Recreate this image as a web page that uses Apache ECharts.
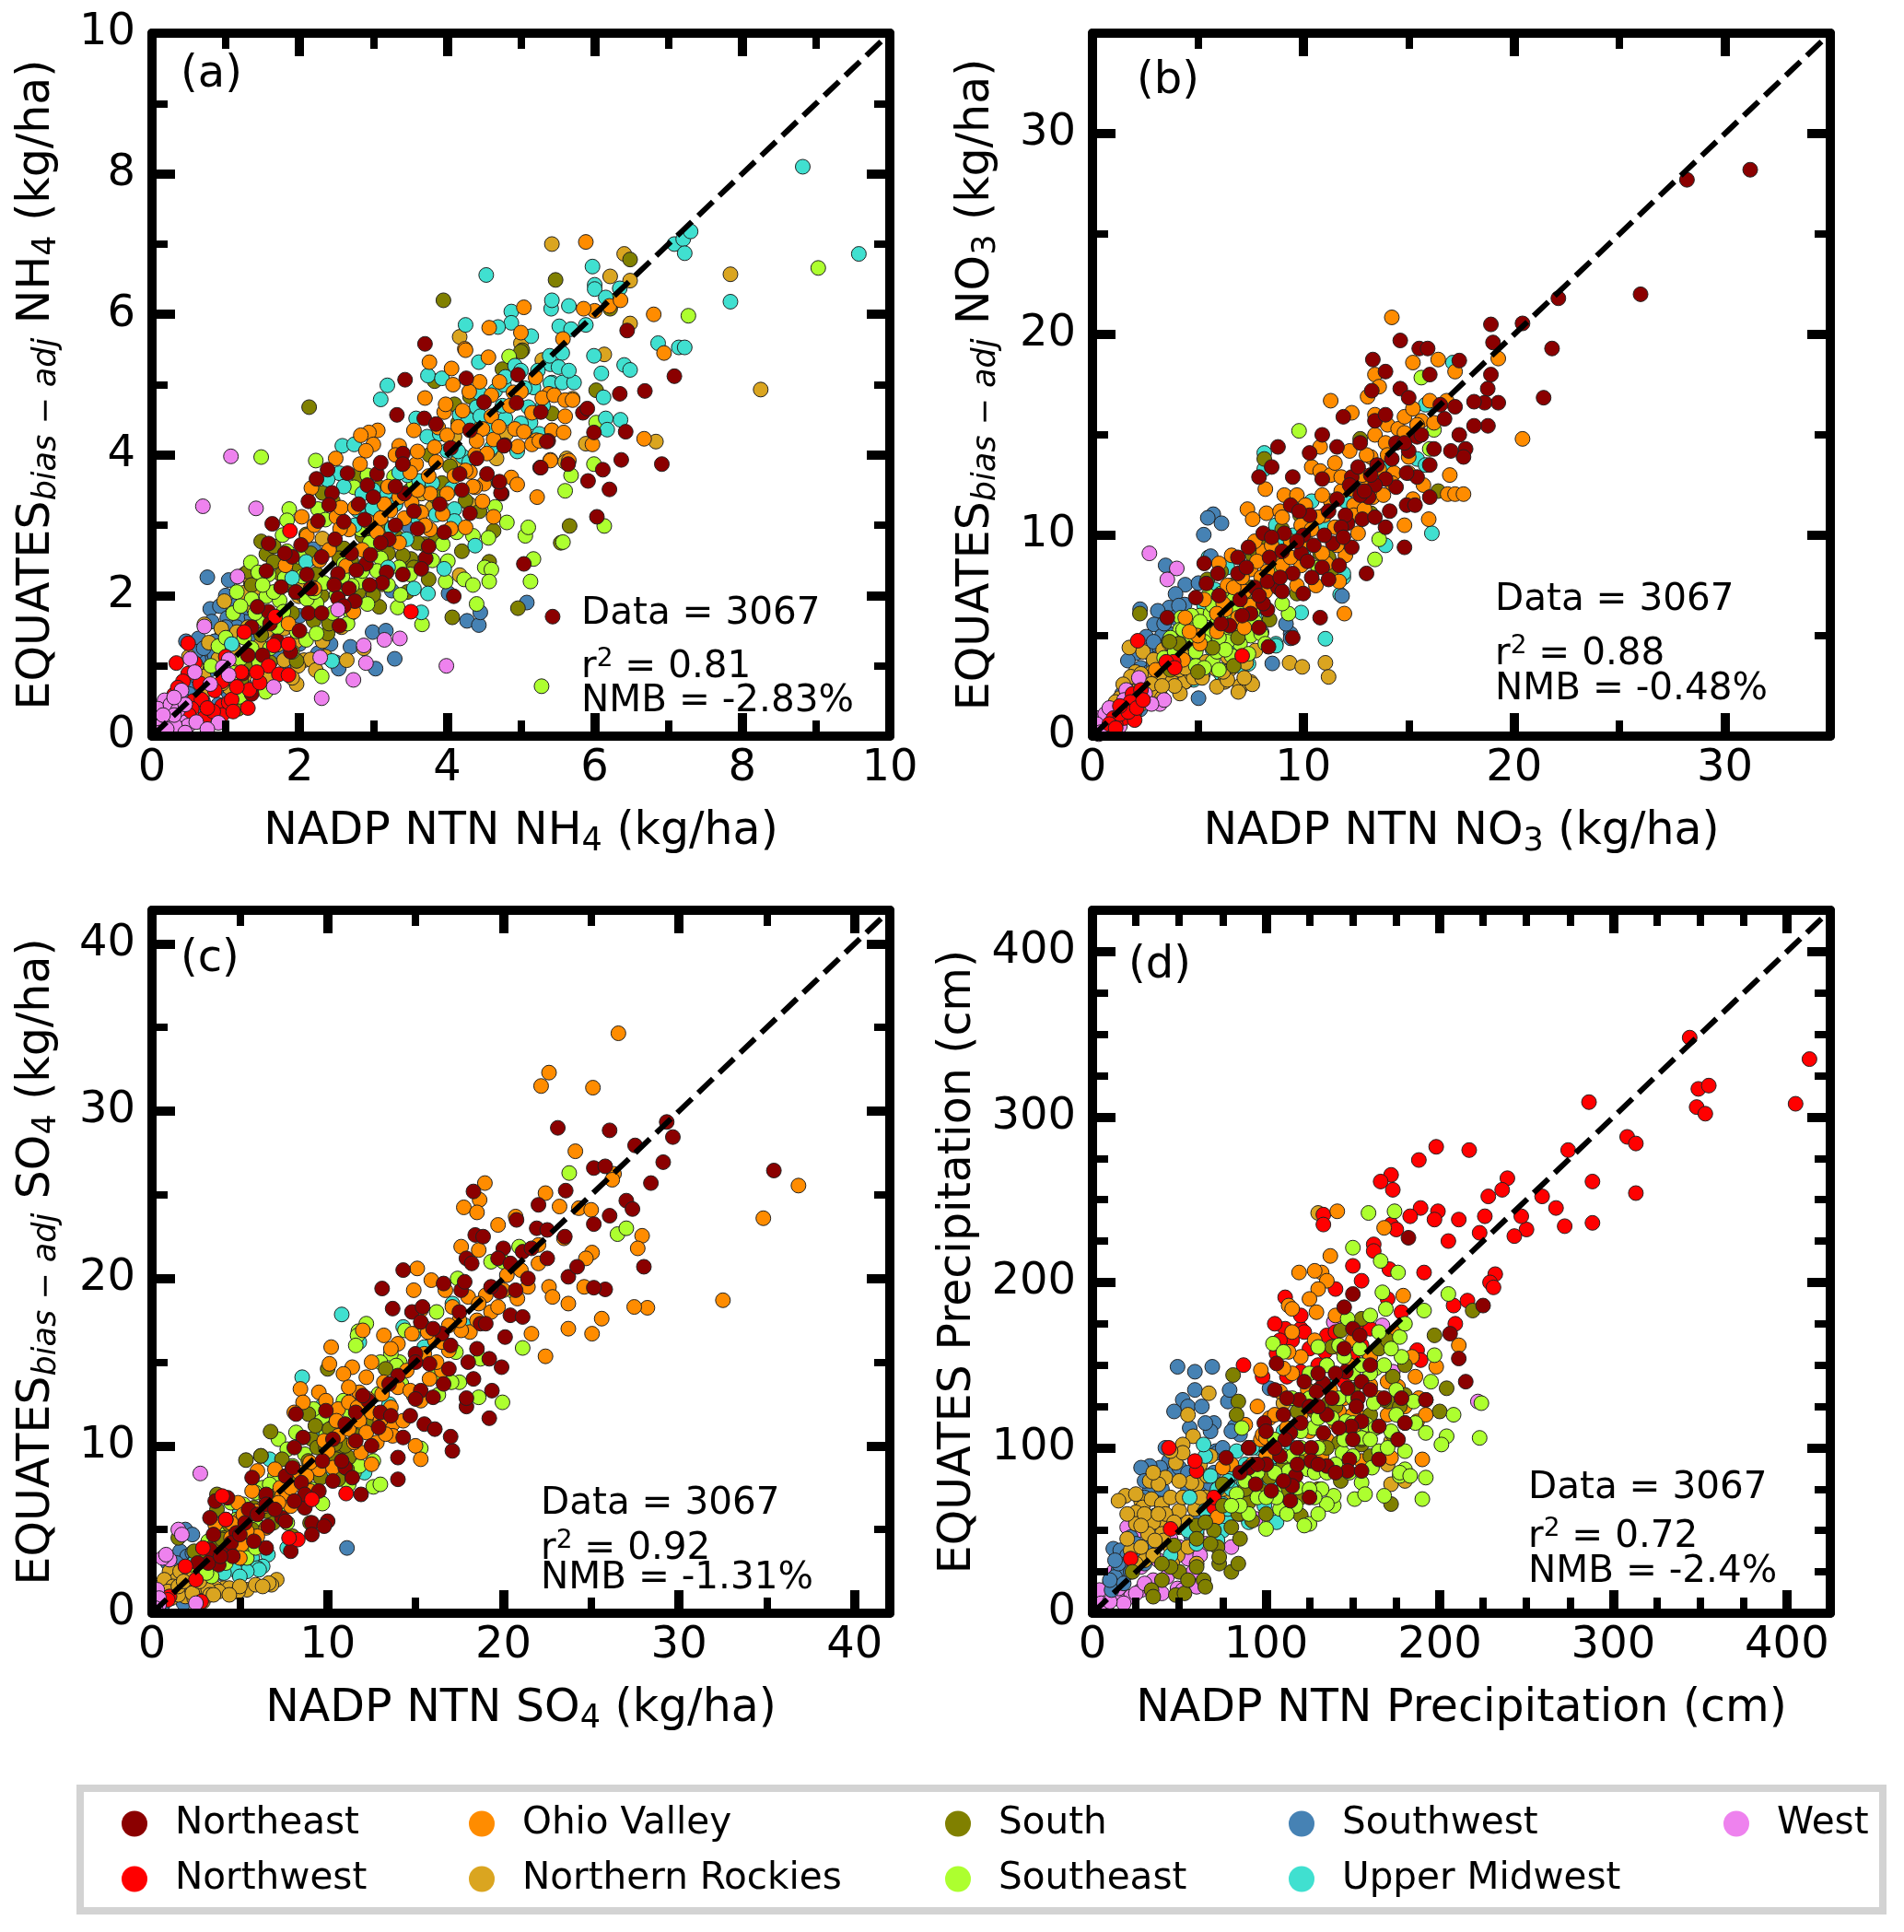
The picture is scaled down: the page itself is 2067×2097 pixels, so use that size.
<!DOCTYPE html>
<html><head><meta charset="utf-8">
<style>html,body{margin:0;padding:0;background:#fff}#c{width:2067px;height:2097px}</style>
<script src="https://cdn.jsdelivr.net/npm/echarts@6/dist/echarts.min.js"></script>
</head><body><div id="c"></div>
<script>
const regionNames=['Northeast','Northwest','Ohio Valley','Northern Rockies','South','Southeast','Southwest','Upper Midwest','West'];
const regionColors=['#8b0000','#ff0000','#ff8c00','#daa520','#808000','#adff2f','#4682b4','#40e0d0','#ee82ee'];
const panelLetters=['(a)','(b)','(c)','(d)'];
const axisMax=[10,35,42,425];
const majorTicks=[[0,2,4,6,8,10],[0,10,20,30],[0,10,20,30,40],[0,100,200,300,400]];
const minorTicks=[[1,3,5,7,9],[5,15,25],[5,15,25,35],[25,50,75,125,150,175,225,250,275,325,350,375]];
const xTitles=['NADP NTN NH{s|4} (kg/ha)','NADP NTN NO{s|3} (kg/ha)','NADP NTN SO{s|4} (kg/ha)','NADP NTN Precipitation (cm)'];
const yTitles=['EQUATES{i|bias − adj} NH{s|4} (kg/ha)','EQUATES{i|bias − adj} NO{s|3} (kg/ha)','EQUATES{i|bias − adj} SO{s|4} (kg/ha)','EQUATES Precipitation (cm)'];
const dataCounts=['Data = 3067','Data = 3067','Data = 3067','Data = 3067'];
const r2Texts=['r{p|2} = 0.81','r{p|2} = 0.88','r{p|2} = 0.92','r{p|2} = 0.72'];
const nmbTexts=['NMB = -2.83%','NMB = -0.48%','NMB = -1.31%','NMB = -2.4%'];

const a_NE=[[3.7,5.58],[3.43,5.07],[3.32,4.57],[4.26,5.09],[3.69,4.52],[3.85,4.44],[4.31,4.35],[4.78,4.14],[5.37,4.2],[5.27,4.61],[5.26,3.82],[4.7,3.61],[4.74,3.45],[4.54,3.73],[4.31,3.17],[4.17,3.73],[2.38,3.79],[2.23,3.66],[2.65,3.74],[2.12,3.34],[2.44,3.46],[2.92,3.57],[3.05,3.73],[3.4,4.02],[3.4,3.87],[1.63,3.02],[2.4,3.29],[2.88,3.08],[3.96,2.9],[2.02,2.72],[1.58,2.74],[2.48,2.8],[2.9,2.45],[2.77,2.36],[3.18,2.33],[3.71,2.53],[3.65,2.38],[2.52,2.31],[2.47,2.15],[2.52,1.96],[1.75,2.12],[1.58,1.77],[1.43,1.84],[1.88,1.2],[1.5,1.15],[1.23,.89],[4.09,1.99],[5.04,2.45],[5.43,1.7],[2.96,2.58],[3.42,3.45],[3.1,3.89],[2.12,1.75],[2.67,2.1],[2.75,1.92],[2.54,1.57],[2.25,3.06],[3.21,2.8],[3.12,2.18],[4.96,5.14],[4.94,4.74],[7.08,5.12],[6.68,4.91],[6.34,4.87],[6.42,4.33],[6.36,3.93],[6.91,3.87],[6.11,3.79],[5.91,3.63],[6.2,3.51],[6.03,3.12],[6.44,5.77],[5.84,4.6],[5.9,4.66],[5.99,4.32],[5.64,3.87],[5.27,3.82],[5.35,4.19],[4.73,3.46],[4.71,3.62],[4.77,4.13],[2.1,2.3],[2.7,2.6],[2.3,2.55],[3.3,3.0],[3.55,3.2],[3.1,2.75],[2.0,1.5],[1.7,1.35],[2.8,3.3],[3.0,3.4],[1.9,2.55],[2.15,2.1],[3.6,2.95],[4.2,3.5],[4.4,3.95],[4.05,4.1],[4.5,4.75],[3.9,3.3],[2.6,3.05],[3.3,3.55],[1.3,1.15],[1.6,1.6],[1.35,.6],[1.8,2.6],[1.95,2.05],[2.3,1.75],[2.6,1.85],[3.4,2.3],[3.75,2.7],[2.95,2.15],[1.55,2.35],[1.35,1.55]];
const a_NW=[[.49,1.32],[.33,1.04],[.49,.89],[.3,.59],[.56,.5],[.95,.43],[.95,.78],[1.32,.66],[1.46,.76],[1.58,1.0],[1.72,.88],[1.85,.87],[1.65,1.29],[1.85,1.31],[1.87,2.92],[3.51,1.77],[.71,.26],[.95,.3],[.42,.78],[1.04,.48],[.67,.52],[1.21,.91],[1.42,.91],[.83,.35],[1.08,.52],[.35,.69],[.54,.39],[1.25,1.48],[1.67,1.7],[1.0,1.13],[.58,1.04],[.65,.75],[.75,.4],[1.15,.7],[.5,.3],[1.3,.4],[.4,.45],[1.1,.35],[.85,.65]];
const a_OV=[[3.06,4.35],[2.94,4.32],[2.83,4.28],[3.0,4.15],[2.9,4.06],[2.49,3.95],[2.82,3.87],[2.16,3.53],[2.03,3.12],[2.5,3.12],[2.67,2.94],[2.56,3.25],[1.81,2.43],[2.27,2.5],[2.63,2.42],[2.73,1.77],[3.76,5.32],[4.06,5.23],[4.24,5.51],[4.08,5.0],[3.7,4.81],[4.56,5.39],[3.96,4.61],[3.55,4.35],[3.88,4.39],[4.0,4.28],[4.21,4.63],[4.48,4.37],[4.63,4.22],[4.38,4.01],[4.54,4.02],[4.96,4.12],[5.21,4.21],[5.4,3.93],[5.42,4.35],[4.92,4.37],[4.9,4.89],[5.38,4.87],[4.71,5.04],[4.44,5.04],[4.5,3.59],[4.31,3.76],[4.48,3.34],[4.87,3.68],[4.95,3.58],[5.22,3.4],[4.63,3.12],[4.25,2.97],[3.94,3.16],[3.77,3.45],[3.77,2.94],[3.65,3.18],[3.42,3.1],[3.52,3.32],[3.23,3.21],[3.58,3.87],[3.4,3.87],[3.35,4.13],[3.83,4.11],[2.92,3.06],[4.38,3.54],[4.25,3.78],[5.04,4.33],[5.29,4.81],[5.88,7.03],[6.8,6.0],[6.94,5.45],[5.04,6.1],[4.57,5.81],[5.0,5.74],[6.67,4.23],[5.97,4.15],[5.57,5.65],[6.0,6.05],[5.85,6.08],[6.2,6.12],[6.35,6.2],[5.45,4.85],[5.6,4.78],[5.7,4.78],[5.6,4.55],[5.42,4.35],[5.58,4.32],[5.15,4.15],[5.25,4.2],[5.4,3.92],[5.65,3.92],[4.25,5.49],[3.98,4.72],[4.6,4.55],[5.0,4.9],[3.2,3.55],[3.75,3.7],[3.1,3.1],[3.35,2.75],[3.7,3.0],[4.0,3.45],[4.1,3.7],[4.4,4.2],[4.7,4.4],[4.85,4.7],[4.3,4.9],[3.6,3.5],[3.15,3.3],[2.85,2.65],[2.4,2.65],[2.55,2.95],[2.1,2.85],[3.85,3.9],[4.6,4.85],[5.15,4.6],[5.2,5.1],[3.5,3.75],[1.85,1.6],[2.2,2.1],[2.2,3.0],[2.75,3.25],[3.05,2.9],[3.3,4.0],[3.6,4.05],[4.15,4.4],[4.35,3.55],[4.05,2.95],[3.35,3.4]];
const a_NR=[[1.25,2.04],[1.34,2.18],[1.44,2.12],[.98,1.92],[.71,1.59],[.77,1.33],[.5,1.13],[.94,1.53],[1.15,1.48],[1.46,1.29],[1.79,1.53],[1.79,1.08],[2.06,1.08],[2.15,1.09],[1.98,1.0],[2.22,.94],[1.96,.74],[1.9,.83],[1.05,.69],[.77,.67],[2.64,1.08],[2.87,1.25],[2.57,1.55],[2.31,1.35],[1.99,1.99],[2.31,2.81],[3.12,2.16],[3.8,3.25],[4.17,2.29],[4.67,3.95],[4.35,4.52],[4.1,4.26],[4.17,5.68],[5.0,5.59],[1.67,1.55],[1.38,1.81],[1.88,2.49],[2.35,1.13],[4.58,4.06],[5.29,5.35],[4.13,3.89],[2.17,2.53],[5.42,7.0],[6.4,6.86],[6.21,6.54],[7.84,6.57],[8.25,4.93],[6.48,5.87],[6.48,6.48],[6.13,5.43],[5.88,4.16],[6.83,4.19],[5.62,3.95],[5.7,4.8],[5.6,3.9],[.6,1.0],[.9,1.1],[1.1,1.0],[1.3,1.55],[1.5,.95],[1.6,.85],[1.7,1.3],[1.25,2.3],[1.5,1.7],[2.0,2.2],[3.65,3.45],[4.0,3.2],[4.3,3.3],[4.8,4.3],[2.6,2.1],[.7,.85],[1.1,1.25],[.95,.75],[1.25,.85],[1.55,1.5],[1.95,1.35]];
const a_S=[[2.13,4.68],[4.75,5.22],[5.02,5.49],[3.83,5.05],[4.1,4.72],[4.31,4.83],[4.15,4.46],[3.76,4.0],[2.79,3.71],[2.31,3.46],[3.08,3.54],[4.04,3.84],[3.93,3.6],[4.25,3.35],[4.44,3.2],[4.63,2.92],[4.2,2.63],[4.57,2.48],[4.96,1.82],[4.07,1.69],[3.04,2.85],[3.04,2.71],[2.6,2.67],[2.09,2.87],[1.48,2.77],[1.55,2.59],[1.65,2.48],[1.3,2.34],[2.23,2.31],[2.54,2.53],[3.51,2.52],[3.4,2.57],[3.69,2.73],[3.75,2.23],[3.33,2.82],[3.08,1.84],[3.46,2.05],[3.0,2.01],[2.19,1.64],[1.48,1.44],[1.21,.8],[1.17,.39],[1.96,1.07],[2.38,1.46],[3.17,2.97],[3.67,3.63],[5.42,4.59],[5.54,2.75],[3.95,6.2],[5.47,6.49],[6.48,6.78],[6.21,6.08],[5.66,2.99],[5.0,5.47],[6.02,4.92],[2.5,2.2],[2.0,2.4],[1.75,2.3],[1.8,2.15],[1.9,1.75],[2.3,2.0],[2.7,2.5],[3.2,2.6],[3.6,2.75],[3.85,2.8],[3.3,3.3],[3.5,3.5],[3.85,3.4],[2.15,2.6],[2.85,2.85],[2.4,1.6],[1.6,1.05],[1.3,1.0],[1.0,.9],[1.35,2.15],[1.65,2.7],[2.05,2.0],[2.8,2.05],[3.55,2.4],[3.25,3.55],[2.45,3.35]];
const a_SE=[[1.48,3.97],[2.22,3.92],[1.86,3.23],[1.83,3.07],[2.25,3.23],[2.35,3.08],[2.74,3.54],[3.28,3.69],[1.77,2.86],[1.83,2.63],[1.34,2.47],[1.44,2.33],[1.58,2.3],[1.8,2.25],[1.55,1.99],[1.73,1.93],[1.51,1.66],[1.78,1.77],[1.96,1.49],[2.23,1.89],[2.09,1.37],[2.23,1.46],[.9,1.28],[1.25,1.4],[2.3,.85],[1.54,.63],[1.19,.56],[2.33,2.18],[2.5,2.01],[2.83,2.2],[2.71,2.14],[2.92,1.88],[3.33,1.83],[3.37,2.01],[3.66,1.59],[3.1,2.53],[2.83,2.94],[3.94,2.73],[4.01,2.49],[4.13,2.9],[4.35,2.85],[4.56,2.82],[3.98,2.2],[4.23,2.23],[4.35,2.15],[4.51,2.4],[4.6,2.37],[4.57,2.2],[4.81,3.04],[5.06,2.85],[5.1,2.97],[4.65,3.26],[5.17,2.52],[5.13,2.2],[4.4,1.88],[5.28,.71],[4.84,5.4],[3.63,3.19],[2.58,2.27],[2.04,2.27],[2.92,3.71],[9.03,6.66],[7.27,5.98],[6.3,6.2],[6.02,4.46],[5.99,3.87],[5.68,3.71],[5.6,3.49],[6.13,2.99],[5.57,2.76],[1.65,2.05],[2.1,1.95],[2.7,1.75],[2.6,2.45],[2.2,2.05],[2.45,1.75],[1.7,1.55],[1.4,1.75],[1.2,1.1],[1.1,.9],[1.6,1.25],[2.85,2.35],[3.2,2.15],[3.5,2.3],[1.95,2.05],[1.1,1.75],[1.15,2.05],[1.5,2.15],[2.95,2.75],[3.35,2.4],[1.9,1.2],[3.55,3.6],[1.35,1.95],[.8,1.0],[1.2,1.85],[1.0,1.4],[1.35,1.25],[1.45,1.05],[2.0,2.55],[2.65,1.6],[3.05,2.35],[3.8,2.5]];
const a_SW=[[.75,2.26],[1.04,2.22],[1.06,1.91],[.79,1.81],[.92,1.85],[1.02,1.68],[1.17,1.7],[1.35,1.7],[1.29,1.83],[.81,1.63],[.63,1.39],[.95,1.44],[.75,1.04],[.54,.72],[.69,.5],[.71,.39],[1.31,1.21],[1.31,.98],[1.04,.61],[2.0,1.71],[2.04,2.11],[2.19,2.66],[2.99,1.48],[3.17,1.5],[2.42,1.31],[2.69,1.27],[2.49,1.05],[2.53,.96],[3.29,1.1],[3.03,.96],[4.27,1.64],[4.43,1.58],[4.45,1.76],[5.08,1.9],[4.02,2.03],[3.48,2.98],[2.25,1.18],[1.48,.98],[.9,.7],[.46,1.35],[.63,1.09],[2.0,1.31],[3.25,2.07],[1.69,1.53],[.85,1.15],[1.1,1.25],[.6,.85],[.5,.6],[1.2,1.0],[1.4,1.4],[1.0,1.0],[.8,.95],[1.15,1.55],[.6,1.2],[1.5,1.45],[.9,.45],[1.25,.75],[1.7,1.2],[1.85,1.05],[.4,.55],[1.0,1.55],[1.0,2.0],[.7,1.25],[.85,1.35],[.75,.75]];
const a_UM=[[3.19,4.99],[3.1,4.79],[3.74,5.13],[3.93,5.09],[4.43,5.32],[3.58,4.52],[2.58,4.13],[2.74,4.15],[4.44,4.88],[4.65,4.91],[4.77,5.0],[4.4,4.68],[4.17,4.57],[4.29,4.5],[4.79,4.52],[5.13,4.46],[5.1,4.68],[5.17,4.96],[5.42,5.03],[5.4,5.29],[5.23,5.2],[3.73,4.26],[4.0,4.06],[4.21,3.98],[4.06,3.52],[3.46,3.71],[3.17,3.47],[2.54,3.74],[2.38,3.65],[2.79,3.21],[2.99,3.24],[3.25,2.96],[3.45,2.8],[4.1,3.23],[4.1,3.06],[4.38,2.71],[2.09,2.48],[3.55,2.1],[3.74,2.03],[3.65,1.76],[3.96,2.38],[2.44,1.07],[4.79,5.11],[4.92,5.27],[5.2,4.24],[4.58,4.37],[3.62,3.63],[1.08,1.31],[8.82,8.1],[9.58,6.86],[7.84,6.18],[7.08,7.0],[7.2,7.07],[7.3,7.18],[7.22,6.87],[6.86,5.59],[7.14,5.53],[7.22,5.53],[6.4,5.28],[6.48,5.21],[6.09,5.16],[6.12,4.82],[6.35,4.5],[6.15,4.52],[6.17,4.36],[4.53,6.56],[5.41,6.08],[5.42,6.2],[5.65,6.12],[4.87,6.04],[4.87,5.88],[4.69,5.82],[5.14,5.69],[5.52,5.83],[5.68,5.79],[5.88,5.85],[5.97,6.68],[6.0,6.42],[6.0,6.36],[6.15,6.24],[6.34,6.37],[4.25,5.85],[5.39,5.41],[5.56,5.45],[5.51,5.25],[5.4,5.02],[5.56,5.03],[5.72,5.03],[5.65,5.2],[5.99,5.41],[5.05,4.95],[5.3,4.7],[5.0,4.45],[3.3,3.3],[3.0,3.0],[3.8,3.6],[3.6,3.1],[3.85,3.15],[4.3,3.9],[4.6,4.1],[4.75,4.7],[5.0,5.2],[3.9,4.3],[3.0,3.5],[2.75,3.0],[2.6,3.55],[3.2,2.4],[3.35,3.75],[4.15,4.05],[4.45,4.55],[5.25,4.3],[4.95,4.05],[2.85,3.45],[1.9,2.25]];
const a_W=[[1.07,3.98],[.69,3.27],[1.41,3.24],[1.16,2.27],[.71,1.56],[.52,1.1],[3.15,1.37],[3.36,1.39],[2.87,1.29],[2.9,1.04],[3.99,1.0],[2.73,.8],[2.3,.54],[2.28,1.12],[2.52,1.8],[.17,.51],[.08,.39],[.23,.29],[.15,.17],[.4,.2],[.49,.15],[.31,.15],[.9,.19],[.4,.65],[.58,.91],[1.04,1.09],[.96,.98],[1.65,.7],[.79,.74],[1.04,.87],[.06,.13],[.25,.45],[.35,.37],[.1,.05],[.2,.1],[.3,.3],[.45,.45],[.6,.2],[.15,.3],[.3,.55],[.75,.1],[.45,.05]];

const b_NE=[[31.2,28.2],[28.2,27.7],[26,22],[22.1,21.8],[21.8,19.3],[21.4,16.85],[20.4,20.55],[18.9,20.5],[19,19.6],[19.25,16.6],[18.6,16.6],[18.1,16.65],[18.9,18],[18.75,17.3],[18.76,15.45],[18.1,15.45],[17.4,18.7],[17.7,14.3],[17.6,13.9],[17.4,15],[13.3,18.75],[14.6,19.7],[15.5,19.3],[15.9,19.3],[13.9,18.15],[13.25,17.2],[14.6,17.3],[15,16.85],[16,18],[17.2,16.4],[17,14.2],[16.7,15.8],[16.2,14.3],[16,13.5],[16,11.9],[14.9,11.5],[14.4,12.4],[15.4,12.9],[15.3,11.5],[13.9,12.8],[13.4,12.5],[13.1,11.9],[12.8,10.8],[13.9,10.4],[14.8,9.4],[13,8.1],[10.8,5.9],[8.8,14.4],[7.9,12.9],[8.5,13.4],[10.3,14.1],[10.9,15],[11.6,14.4],[11.9,15.9],[12.7,14.6],[13.4,15.7],[13.9,16],[14.4,14.6],[15.4,14.9],[10.9,12.8],[11.6,11.8],[12.3,12.9],[12.6,13.4],[9.5,12.9],[9.4,11.5],[9.1,10.1],[8.1,10.1],[7.4,9.4],[6.9,8.9],[8.4,8.9],[9.9,9.1],[10.9,8.4],[11.4,9.6],[12.1,10.6],[12.3,9.4],[11.7,8.5],[10.4,7.9],[9.5,8.1],[8.8,7.4],[7.7,7.4],[6.9,8.1],[5.95,8.1],[5.3,8.6],[6,7],[7.5,6.1],[8.3,6.3],[8.1,6.6],[9,7.2],[3.55,5.9],[4.9,6.9],[7.9,5.4],[9.5,4.9],[8.35,4.45],[10,10],[10.5,9.5],[11,10],[12,11],[12.7,12],[13.5,13.5],[14.2,13.8],[15,14.2],[10.3,11],[9,9.2],[8.3,7.7],[7.3,8.4],[11.2,11.2],[13.2,13],[14.8,14.6],[16.5,16.5],[15.6,15],[9.7,9.7],[12.2,12.5],[8.9,7.9],[10,7.1],[11.2,7.8],[6.5,5.5],[7,6.8],[5.4,7.6],[12.9,12.2],[11.8,10.4],[14.1,11.2],[8.5,9.9],[10.2,8.7],[11.9,9.9],[13.4,10.9],[14.9,13.1],[9.8,11.2],[6.1,5.6],[7.9,7],[7.1,6]];
const b_NW=[[2.15,4.75],[7.1,4],[3.85,3.7],[3.5,3.7],[3.9,3.4],[1.9,2.1],[2.3,2.3],[1.5,1.3],[1,.9],[1.5,.9],[2,.8],[1.1,.6],[2.2,1.9],[1.8,1.7],[.8,.6],[1.3,1.1],[1.7,1.2],[1.3,1.5],[2.1,1.4],[2.4,1.8],[1.1,.4]];
const b_OV=[[14.2,20.85],[20.4,14.8],[15.2,18.6],[16.4,18.75],[17.2,18.15],[19.25,18.8],[13.4,18],[13.6,17.4],[13.05,16.9],[11.3,16.7],[12.3,16.1],[16.85,12.05],[17.2,12.05],[17.6,12.05],[16.95,13],[14.8,10.5],[15.95,10.8],[7.35,11.3],[8.2,12.3],[8.25,11.1],[7.6,10.8],[8.9,11.2],[9.1,12],[9.7,12],[10.8,14.4],[10.4,13.4],[10.8,13.2],[11.3,13],[11.5,13.6],[12.2,14.2],[13.2,13.9],[13.6,13.3],[14.3,13.1],[15,13.1],[15.7,12.5],[15.2,11.8],[13.3,11.9],[13.1,12.6],[13.4,15],[13.4,16],[14,15.5],[14.5,15.3],[14.8,15.9],[15.6,15.7],[16,16.7],[16.8,16.7],[15.2,16.3],[13.9,14.6],[11.3,11.7],[11.8,12.2],[10.9,12],[9.9,10.5],[10.2,9.6],[11.1,8.6],[11.5,10.4],[12,9],[12.6,10.1],[10.6,7.5],[11.7,7.7],[9.7,7.5],[9.9,8.5],[8.3,8.2],[8.1,9.2],[7.2,7.2],[7.5,8.3],[8.7,8.9],[6.6,9],[6,8.6],[6.4,7.5],[7.5,6.5],[6.3,6.3],[6.9,5.9],[7.2,5.4],[5.9,5.2],[5.3,6.8],[4.4,5.9],[4.3,3.8],[5.1,4.6],[11.95,6.1],[12.4,11.5],[9,8.5],[9.4,9.7],[10.4,10.3],[11,11],[11.6,9.5],[12.4,11],[12.8,13],[14,14],[14.8,15.1],[15.4,15.5],[13.8,12],[8.5,9.5],[7.8,8.7],[6.7,7.4],[10.9,9.1],[9,10.9],[10.1,11.5],[12.3,12.3],[13,14],[8.2,7.2],[6.2,6.6],[5,5],[4.6,5.2],[3,3.3],[5.9,6.1],[7.1,7.9],[8,7.9],[9.4,8.9],[10.7,10.9],[11.8,12.9],[12.9,11.3],[14.2,12.6],[15,13.9],[16.2,15.6],[7.7,9.7]];
const b_NR=[[9.35,3.65],[9.95,3.45],[11.05,3.65],[11.2,2.95],[7.5,2.7],[7,2.4],[5.86,3.34],[6.53,3.34],[6.27,2.7],[5.9,2.46],[7,2.5],[7.58,2.58],[7.2,2.9],[6.92,2.2],[4.37,2.7],[4.15,2.12],[3.72,2.76],[2.04,3.19],[1.75,4.41],[3.35,4.29],[1.82,2.96],[1.46,2.58],[2.19,2.35],[4.96,5.1],[4.23,4.11],[2.84,3.19],[3.64,4.64],[2.55,1.82],[7.29,3.65],[7.73,4.26],[6.41,3.95],[5.4,3.7],[4.7,3.1],[4.1,3.3],[2.9,2.3],[2.4,4.2],[1.6,1.7],[2.6,2.9],[3.3,1.9],[3.9,2.5],[4.8,2.9],[2.3,2.7],[2.9,3.8],[3.2,3.1],[1.9,2.1],[1.3,1.9],[1,1.3],[2.3,1.6],[3.5,3.9],[2.8,2.6],[6.4,2.8],[6.2,3.2],[1.5,1.1],[2,1.5],[2.3,3.1],[3.3,2.5],[4.4,3.4],[5.2,2.9],[1.1,1.7],[1.7,1.3]];
const b_S=[[8.15,13.8],[2.25,6.1],[5.45,7.8],[6.1,8.2],[7.6,9],[7.8,9.2],[9,10.3],[9.85,11],[11.2,8.9],[11.3,8.1],[13.2,11.1],[16.4,12.2],[12.7,14.8],[7.5,7.4],[9.7,7.1],[8.4,5.8],[6.9,4.9],[4.1,4.6],[3.65,4.7],[6.5,5.5],[6.6,7.5],[8.1,9.9],[9,8.9],[10.8,9.1],[7.2,6.8],[5.7,4.4],[6.7,3.5],[5,3.2],[8.3,8],[3.7,3.3],[2,1.2]];
const b_SE=[[9.8,15.2],[15.6,17.85],[16.2,15.25],[13.6,9.8],[4.2,5.9],[4.15,5.3],[4.95,5.5],[5.1,6],[4.4,4.7],[4.9,4.2],[5.7,3.7],[6.05,5.4],[6.5,5.2],[7,5.5],[7.5,5],[7,4.6],[7.4,4.1],[6.4,4.7],[5.9,4.2],[5.5,5.2],[5.6,6.1],[6.1,7.1],[5.5,7],[6.7,6.8],[8,5.1],[8.2,4.6],[9.3,6.1],[10.7,8.4],[13.4,8.8],[16,14.3],[3.7,4.9],[5,5.2],[5.3,4.7],[6,4.9],[6.6,4],[7.7,5.7],[6.2,5.9],[4.7,5],[4.9,3.5],[5.3,3.4],[3.4,3.9],[7.1,7],[6.6,6.2],[8.7,8.2],[9,6.6],[5.7,6.5],[6,3.3],[3.9,4.2],[4.7,6],[5.9,5.6],[6.9,6.2],[7.6,6.2],[6.3,4.3],[4.3,5.3],[5.1,5.7]];
const b_SW=[[5.73,11.05],[5.47,10.87],[6.12,10.6],[5.28,10.03],[3.47,8.5],[2.26,6.32],[4.4,7.54],[5.03,7.62],[3.94,7.08],[3.64,6.4],[4.37,6.55],[3.1,6.24],[2.92,5.56],[3.57,5.1],[2.55,4.95],[2.08,4.14],[2.81,4.03],[1.68,3.76],[5.25,3.11],[5.03,1.89],[8.53,3.62],[9.4,5.1],[9.4,4.87],[9.18,5.59],[11.84,6.98],[8.02,5.18],[5.61,8.96],[2.92,2.92],[2.26,1.33],[1.63,1.85],[3.13,2.43],[4.66,3.95],[3.79,3.65],[3.3,5],[3.9,5.9],[3.2,4.3],[4,4.9],[2.3,3.4],[3.2,3.5],[4.5,3.1],[3.9,5.1],[2.7,3.2],[2.9,4.7],[3.2,2.9],[2.2,2.2],[1.6,2.5],[1.3,1.6],[2.5,2.5],[3.6,4.7],[4.8,4.4],[5.2,5.4],[5.8,6.9],[4.1,6.5],[3.4,5.6],[1.9,2.8],[4.2,3.5],[4.6,5.4],[2.4,3],[2.9,3.6],[3.5,3.3],[3.9,4.4],[4.4,4.3],[3.1,3.9],[2.1,2.5],[1.4,2.1]];
const b_UM=[[16.1,10.1],[11.05,4.85],[9.9,6.15],[8.7,4.6],[11.75,7.05],[11.9,7.9],[17.1,18.6],[15.8,16.5],[8.15,14.1],[8.15,13.3],[8.7,10.5],[9.1,9.6],[10.4,11.7],[10.5,10.6],[12,11.7],[13.9,9.5],[15.4,13.8],[15.8,13.5],[6.4,8.4],[7,8],[7,6.7],[5.5,8.9],[5.3,6.5],[6.5,3.7],[7,3.5],[8.7,4.5],[7.4,3.6],[3.9,3],[5,5.8],[6.5,4.5],[4.8,2.8],[8.1,6.4],[11.9,8.1],[9.5,10],[11,10.5],[12.2,11],[13.3,12],[14,13.5],[10,9],[8.5,8.2],[8.2,7.7],[7.7,5.9],[5,4.5],[4.5,3.6],[5.7,4.3],[4.2,4.5],[6.1,3.1],[3.5,2.8],[4.4,2.7],[5.8,7.3],[5.1,5.4],[6.6,6.5],[4.6,4.6]];
const b_W=[[2.7,9.1],[4,8.35],[3.55,7.8],[.3,.4],[.5,.7],[.7,.9],[.9,1.2],[.4,.9],[.6,.3],[1,.3],[1.3,.5],[1.6,2.3],[2.5,2.1],[3.2,1.6],[3.4,1.8],[1.2,1.1],[.3,.1],[.2,.9],[2.2,2.9],[.4,.5],[.2,.3],[.7,.4],[.9,.6],[.5,.2],[1.1,.8],[.6,1.1],[.8,1.4],[.2,.6],[1.5,1.8],[2.8,1.6],[.4,.2]];

const c_NE=[[35.4,26.45],[29.3,29.35],[29.65,28.45],[29.1,26.95],[28.4,25.7],[27.5,27.95],[26.05,28.85],[23.1,29],[25.15,26.6],[25.8,26.7],[27,24.65],[27.35,24.15],[26.05,23.75],[28,20.7],[25.8,19.35],[25.15,19.45],[25.15,23.25],[23.7,20.1],[24.2,20.7],[23.55,25.25],[22,24.4],[18.3,25.2],[20.75,23.5],[18.4,22.6],[18.85,22.5],[14.3,20.5],[19.2,11.65],[19.35,13.3],[17.1,9.7],[17,10.55],[14,8],[17.9,12.35],[17.9,12.85],[13.1,19.4],[23.5,22.5],[21.9,23],[22.5,22.9],[22.5,21.2],[21.1,21.6],[21.6,21.8],[20,21.8],[19.7,21.2],[17.9,21.2],[18.2,20.9],[13.7,18.2],[14.8,18],[15.4,18.3],[15.3,17.4],[16.6,19.7],[17.6,19.3],[17.8,19.8],[19.8,19.2],[20.7,19.3],[20.4,17.8],[21.1,17.7],[19.2,15.2],[19.9,14.7],[18,15],[16.9,14.6],[15.8,14.9],[15.3,13.3],[15,12.8],[16,12.9],[14.3,10.5],[14,9.3],[15.5,11.3],[16.1,11],[12.3,12.7],[11.6,12],[9.9,12.1],[11.6,10.3],[8.2,11.9],[8.6,10.5],[8.1,9.9],[9.7,9.1],[11,8.7],[11.4,8.1],[11.9,7.1],[8.5,7.8],[5.7,8.1],[6.5,7.1],[6.5,6.5],[8.7,6.3],[9.1,5.4],[10,5.5],[9.1,4.7],[4.8,4.8],[4.2,5.6],[3.5,4.7],[3.3,5.7],[3.6,6.7],[4.3,6.9],[5.3,5.4],[5.5,6.2],[7.9,3.7],[9.8,5.2],[4.3,3.7],[3.3,3.8],[3.8,2.9],[6.5,3.9],[6.6,5.2],[7.4,5.7],[6,5.9],[7,6.2],[7.6,8.2],[8.7,7.1],[10.3,10.4],[11,11.3],[12,13],[13,12],[14,14.2],[15,15.5],[16.5,16.7],[17.5,18],[18.7,17.3],[19.3,19.5],[20.4,20.9],[21.4,20],[16,17],[18.5,15.8],[13.5,13.7],[15,15],[3.2,3],[4.5,4.2],[5,4.7],[2.6,3],[8,8.7],[12.9,11.1],[10.8,9.1],[4.6,3.4],[5.8,4.3],[7.6,5.5],[8.1,6.7],[9.5,7.3],[10.3,7.9],[12.5,10],[13.6,11.8],[14.7,11.8],[16.6,13.7],[18.3,14],[20.1,16.5],[17,16],[19,17.3],[3.9,3.4]];
const c_NW=[[11.05,7.15],[9.1,6.8],[8.3,4.4],[4,7],[4.2,5.6],[2.9,3.9],[1,1],[2.8,.7],[2.5,2],[1.9,2.8],[.9,.8],[7.8,4.5]];
const c_OV=[[26.55,34.65],[22.6,32.3],[22.15,31.5],[25.1,31.4],[24.1,27.6],[36.8,25.55],[34.8,23.6],[32.5,18.7],[28.2,18.25],[27.45,18.3],[27.9,22.55],[27.65,21.8],[26.3,26.25],[26.2,25.9],[18.95,25.7],[18.65,24.7],[17.75,24.25],[18.5,23.95],[22.4,15.35],[23.7,17],[25.05,16.7],[25.6,17.6],[23.7,18.5],[24.6,19.5],[25.05,21.55],[24.7,21.2],[23.45,22.4],[22.4,25.1],[23.2,24.3],[24.3,24.2],[25,24.1],[20.7,23.7],[19.7,23.2],[17.6,21.9],[18.6,21.7],[22,20.9],[22.6,19.5],[22.8,18.9],[21.6,16.7],[20,19.3],[15.1,20.6],[15.9,19.9],[16.7,19.3],[14.9,19.3],[15.3,18.1],[17.1,18.3],[18,18.9],[19.3,18],[18.1,16.8],[17.6,16.9],[16.9,15.7],[16.1,16.3],[14.8,16.7],[14,16.1],[13.2,16.6],[13.6,15.8],[12,16.9],[11.4,14.7],[10.2,15.9],[10.1,14.9],[10.9,14.3],[9.5,13.2],[8.45,13.4],[8.6,12.6],[8.1,12],[9.9,12.7],[10.6,12.2],[11.2,12.6],[11.8,13.2],[12.2,14.1],[13.1,13.1],[13.6,12.3],[13.7,11.3],[15,10],[15.3,9.2],[13.7,10.6],[11.9,9.6],[11.5,10.2],[12.8,10.2],[12.5,8.9],[9.5,8.6],[7,8.6],[7.3,7.5],[6,8.5],[5.7,7.3],[6.4,6.4],[7.4,7],[7.9,6.4],[5,5.6],[4.5,5.4],[3.6,5.3],[5.1,4.1],[6.5,5.1],[5,3.3],[14.9,13],[15.8,14],[16.5,14.5],[5.9,6.1],[6.5,6.9],[7.9,7.5],[8.4,8.4],[9,9],[10,9.7],[10.6,10.6],[11.2,11],[11.8,11.5],[12.2,10.8],[12.5,12],[13.2,13.8],[14,13.5],[14.5,14.5],[15.5,15.5],[16.5,16.2],[17.5,17.5],[19,19],[20.2,20.2],[21,20.5],[22,22],[12.5,15],[11.2,13.5],[10.5,11.5],[13,11.5],[14.3,11.5],[15.3,12.7],[16.2,15],[18.5,17.5],[9,7.3],[6,4.6],[4.9,6.6],[3.4,3.2],[4.5,4.5],[5.4,4.9],[7.2,6.6],[8.8,8.2],[9.8,10.3],[10.3,8.7],[11.7,12.3],[12.3,12.8],[13.3,10.7],[14.7,13.3],[15.7,16.8],[16.9,17.2],[18.6,18.5],[19.7,18.3],[20.8,18.8],[21.4,19.5],[5.2,5.9]];
const c_NR=[[7.1,2],[6.8,1.7],[6.65,1.8],[5.4,1.4],[4.7,1.3],[4.1,1.5],[3.6,1.5],[4.4,1.5],[4.9,1.3],[5.9,1.7],[6.3,1.6],[3.8,1.3],[2.5,1.3],[2.8,1.1],[1,2.5],[1.4,2],[.7,2],[2.9,.7],[1.9,1],[2.2,2.2],[1.1,.9],[1.2,1.6],[1.6,2.5],[2.1,1.6],[2.9,1.6],[3.2,1.4],[2.4,.9],[.9,1.3],[3.3,1.1],[.6,.9],[1.5,1.1],[5,1.6],[1.5,1.6],[2.3,1.2],[3.5,1.1],[1.8,1.9],[2.7,1.9],[4.4,1.1]];
const c_S=[[10,14.6],[5.35,9.15],[6.75,10.85],[8.9,11.9],[9.1,10.4],[9.3,11.2],[10.1,11],[11.6,10.6],[11.2,9.3],[10.6,9.9],[10.1,9.2],[9.3,8.8],[9.4,9.9],[13.3,14.6],[11.1,8.6],[10.6,8],[10.5,9.2],[8.7,8],[7,7],[3.7,6.2],[1.5,4.5],[3.5,4],[4.1,4.5],[4.4,5.3],[3.7,7.1],[7.4,9.2],[9,5.4],[5.8,6.3],[6.9,5.4],[8,4.6],[9.9,9.9],[8.9,9.1],[9.6,8.1],[11,10],[8.3,8.1],[7.7,6.9],[6.5,6.1],[5.7,5],[4.7,5.3],[4,4.4],[3,3.5],[2.4,3.7],[12.6,11.5],[10.4,10.1],[4,3.5],[6.2,9.4]];
const c_SE=[[23.75,26.3],[26.5,22.65],[27,23],[21.1,15.85],[19.95,12.6],[18.6,12.9],[17.5,13.8],[17.05,13.8],[16.3,13.05],[12.6,7.55],[15.3,9.85],[9.7,6.55],[11.75,16.85],[11.7,16.6],[11.6,16],[12.2,17.3],[14.1,15],[13.6,15.5],[16.2,18],[15.4,17.2],[20,21],[20.9,21.9],[19.3,21],[20.6,19.2],[17.4,20],[11.8,11.2],[9.7,11.7],[9.2,12.2],[8.2,10.8],[7.2,10.4],[7.7,9.8],[6.2,9.4],[11.2,7.7],[12.6,9.1],[7.4,6.3],[7.7,5.4],[5.6,5.7],[4.3,5],[3.2,4.3],[2.7,3.7],[4.9,3.4],[5.4,3.9],[2.5,2.8],[3.4,2.2],[13,7.7],[11.5,8.4],[5.2,6.5],[6.3,7.5],[8,8.8],[8.7,9.5],[9.9,10.6],[10.9,10.1],[10.9,12.7],[12.1,11.9],[12.9,13.1],[14.2,13.7],[16.1,14.2],[14.4,16.9],[7,8.2],[4.5,6.6],[3.5,3.5],[4.2,3],[6,5.2],[5.9,7.2],[18.7,15.2],[17.3,15.6],[11.8,8.8],[3.2,2.9],[4.8,5.6],[6.7,7.7],[7.9,7.9],[9.1,7.4],[11.3,11.9],[13,15],[13.9,14.8],[2.9,3.2],[5.4,3.3],[5.9,3.9],[3.1,2.4]];
const c_SW=[[11.1,3.9],[1.9,5],[2.3,4.7],[1.6,3.7],[2,3.4],[1.4,3],[.9,2],[1.7,1.3],[1.75,.8],[4.8,2.7],[5.4,3],[3.6,2.7],[4.7,3.1],[3,3.4],[5.1,5.1],[2.6,2.4],[1,1.4],[1.5,2.2],[2.1,2.6],[.9,3],[1.2,2.6],[2.3,3.6],[.6,.5],[3.2,2],[1.8,.6],[.5,1.4],[2.5,3.3],[3,2.7],[3.9,2.4],[1.3,1.8]];
const c_UM=[[10.8,17.85],[8.55,14.1],[12.1,8.4],[11.8,16.2],[14.3,17.1],[14.9,16.7],[17.8,17.2],[9.7,12.4],[10.3,8.2],[9.3,10.4],[6.7,9.2],[5.6,5.3],[5.8,5.8],[6.6,3.5],[7.7,3.9],[5.2,4.3],[5.7,3.3],[3.6,5.4],[6.3,2.8],[6,2.7],[5.4,4.8],[6.1,2.6],[5,6.1],[6.6,7.4],[3.8,2.9],[3.9,4.1],[3.2,2.5],[4.3,2.8],[5.4,2.5],[4.7,2.6],[2.4,3],[6.9,6.4],[7.3,7.7],[11.6,10.9],[13.5,12.5],[15.5,15.9],[17.1,18.5],[3.1,3.2],[4.1,2.4],[5,2.2],[2,2.2]];
const c_W=[[2.75,8.35],[1.5,5],[1.7,4.7],[1,3.2],[.3,1.4],[.4,.5],[2.5,.6],[.6,3.3],[.4,.9],[.2,.3],[.8,3.5]];

const d_NE=[[182,227],[225,186],[206,169],[211,154],[215,140],[192,129],[150,193],[145,185],[150,172],[154,168],[146,146],[122,140],[133,139],[147,136],[129,134],[119,129],[106,151],[110,120],[155,116],[153,130],[152,125],[133,109],[149,113],[165,113],[176,105],[148,93],[126,100],[114,109],[126,92],[135,89],[103,74],[90,88],[77,94],[108,95],[111,105],[117,83],[147,86],[165,93],[155,86],[99,115],[114,68],[125,125],[135,120],[142,112],[130,145],[140,145],[112,130],[100,110],[118,100],[130,90],[118,90],[100,90],[90,100],[115,77],[138,130],[145,160],[160,150],[168,130],[105,135],[155,140],[94,78],[180,115],[178,130],[120,115],[130,125],[105,100],[95,90],[85,85],[110,80],[125,70],[150,105],[140,85],[160,135]];
const d_NW=[[344,348],[349,317],[355,319],[348,306],[353,302],[413,335],[405,308],[286,309],[308,288],[313,284],[313,254],[288,261],[288,236],[274,280],[272,234],[267,245],[259,252],[250,232],[243,228],[247,240],[239,263],[236,256],[228,252],[226,240],[223,230],[232,205],[229,200],[231,197],[217,280],[198,282],[188,274],[172,265],[166,261],[173,256],[189,245],[199,243],[197,238],[183,240],[211,238],[205,225],[172,235],[175,232],[133,241],[133,235],[162,223],[162,219],[150,210],[171,208],[191,206],[111,191],[170,190],[208,186],[216,189],[209,175],[178,182],[87,150],[187,159],[189,153],[140,196],[155,201],[111,172],[120,172],[106,157],[122,170],[134,158],[120,146],[98,143],[125,131],[155,162],[135,168],[153,175],[60,86],[70,64],[45,51],[59,92],[22,33],[125,88],[91,71],[44,100],[70,70],[115,165],[120,180],[105,175],[130,150],[140,170],[125,160],[150,155],[160,172],[112,143],[145,140],[108,165]];
const d_OV=[[141,243],[168,233],[137,216],[132,206],[128,207],[119,206],[135,201],[130,196],[129,182],[179,192],[211,162],[198,149],[187,116],[113,186],[115,184],[97,147],[120,155],[113,158],[108,134],[124,135],[122,128],[142,122],[160,138],[165,130],[176,137],[186,143],[184,155],[119,113],[102,118],[90,100],[97,105],[98,108],[88,114],[100,106],[125,96],[132,95],[113,82],[110,71],[72,58],[85,60],[143,160],[148,150],[156,118],[190,93],[172,94],[130,135],[140,115],[150,120],[145,130],[105,120],[125,110],[120,120],[160,155],[170,120],[135,105],[150,110],[180,125],[188,130],[120,90],[95,125],[115,145],[128,165],[110,148],[135,150],[150,165],[175,170],[140,180],[180,115],[192,120],[155,92],[100,95],[112,112],[137,135],[160,110],[80,90],[92,90],[75,88],[170,140],[115,170],[125,190]];
const d_NR=[[130,242],[67,133],[58,107],[55,120],[52,102],[28,68],[19,71],[29,64],[25,61],[34,69],[40,66],[40,53],[50,52],[40,48],[41,44],[49,35],[30,32],[55,40],[22,38],[25,54],[60,78],[65,70],[67,65],[35,55],[42,82],[48,91],[52,97],[57,79],[59,63],[74,62],[32,48],[15,68],[36,44],[70,54],[172,104],[170,90],[172,78],[180,80],[28,40],[46,30],[60,30],[110,127],[25,72],[33,80],[45,70],[50,62],[62,70],[30,60],[38,78],[20,45],[35,35],[55,55],[45,40],[42,60],[70,65],[52,70],[28,53],[60,48],[66,83],[80,72],[35,85],[45,98],[50,80],[25,30],[20,60],[38,60],[62,90],[68,95],[75,75],[47,55]];
const d_S=[[81,144],[197,168],[204,136],[200,122],[192,129],[219,183],[120,59],[80,25],[64,20],[65,16],[143,171],[138,161],[173,143],[170,128],[177,125],[168,129],[180,132],[136,127],[119,92],[155,102],[143,80],[84,128],[83,120],[142,103],[118,122],[97,74],[90,67],[84,60],[92,56],[72,40],[73,30],[47,41],[60,53],[40,20],[34,14],[35,10],[48,11],[53,12],[60,28],[23,25],[73,34],[70,50],[155,105],[172,66],[84,30],[150,135],[160,120],[173,108],[148,108],[128,122],[130,75],[140,125],[110,90],[120,70],[102,82],[88,75],[75,78],[80,52],[65,55],[60,45],[155,178],[165,160],[180,150],[170,165],[100,60],[110,72],[75,65],[85,45],[50,25],[55,20],[45,28],[68,42],[40,30],[160,95],[135,100]];
const d_SE=[[159,242],[174,243],[150,221],[166,213],[176,206],[167,194],[205,193],[191,183],[169,184],[177,167],[197,156],[195,140],[223,106],[224,127],[208,120],[192,109],[204,107],[201,102],[192,82],[177,83],[180,87],[168,71],[151,69],[139,65],[139,71],[125,54],[100,51],[180,98],[186,115],[163,148],[154,160],[142,162],[130,161],[104,163],[110,158],[162,127],[158,114],[146,116],[127,112],[165,98],[177,85],[183,83],[161,88],[155,79],[144,97],[132,75],[124,87],[118,76],[113,86],[105,73],[105,85],[88,80],[83,72],[135,66],[128,70],[117,65],[108,63],[155,106],[130,118],[120,100],[142,130],[178,155],[86,112],[190,69],[130,100],[145,105],[150,115],[163,112],[170,100],[150,130],[160,145],[168,150],[175,135],[185,128],[120,110],[110,95],[115,130],[125,145],[135,150],[150,145],[172,110],[140,90],[128,85],[95,70],[100,90],[138,118],[106,70],[172,160],[148,85],[157,72],[90,60],[112,60],[122,53],[160,180],[147,178],[180,175],[100,70],[85,65],[115,95],[125,75],[135,85],[150,95],[160,105],[175,120],[165,170],[155,150],[145,155],[125,130],[105,105],[95,85],[80,65],[130,60]];
const d_SW=[[49,149],[59,146],[69,149],[59,135],[52,129],[55,125],[63,125],[47,122],[56,112],[70,115],[78,128],[79,135],[82,113],[71,98],[85,108],[102,136],[44,92],[47,85],[61,87],[72,97],[42,100],[39,88],[33,89],[33,75],[28,88],[30,70],[42,71],[62,85],[27,60],[43,58],[62,54],[12,39],[16,38],[15,26],[13,22],[11,14],[36,59],[22,46],[57,46],[30,30],[60,60],[25,42],[20,35],[25,35],[35,50],[40,75],[52,70],[55,75],[70,85],[75,100],[68,110],[15,30],[22,25],[13,32],[33,43],[50,88],[65,78],[30,40],[38,50],[40,65],[55,85],[30,80],[18,18],[10,20],[62,72],[80,110],[65,115]];
const d_UM=[[65,95],[64,102],[83,98],[92,85],[87,80],[84,63],[70,60],[75,66],[80,84],[95,100],[102,104],[108,87],[106,55],[94,80],[99,65],[77,56],[75,50],[72,44],[90,100],[136,137],[68,83],[107,79],[78,63],[87,60],[80,75],[72,75],[85,72],[60,50],[65,62],[100,88],[88,90],[110,110],[118,128],[68,55],[95,72],[56,70],[78,90],[90,55],[78,80],[92,100],[105,95],[55,50],[45,35],[100,75],[60,42],[115,100]];
const d_W=[[222,128],[139,176],[159,157],[167,174],[173,146],[20,52],[30,52],[35,20],[22,10],[14,10],[10,18],[4,14],[60,16],[49,15],[28,14],[55,33],[38,32],[52,14],[75,55],[94,57],[20,32],[8,4],[18,6],[5,6],[12,25],[25,12],[30,18],[43,22],[18,22],[10,7],[65,42],[80,40],[58,25],[45,45],[26,50],[15,35],[28,28],[35,40],[50,40],[62,35],[72,55],[15,15],[40,12]];

const panelData=[
 [a_NE,a_NW,a_OV,a_NR,a_S,a_SE,a_SW,a_UM,a_W],
 [b_NE,b_NW,b_OV,b_NR,b_S,b_SE,b_SW,b_UM,b_W],
 [c_NE,c_NW,c_OV,c_NR,c_S,c_SE,c_SW,c_UM,c_W],
 [d_NE,d_NW,d_OV,d_NR,d_S,d_SE,d_SW,d_UM,d_W]];
const drawOrder=[[6,3,4,5,7,2,0,1,8],[7,6,3,5,4,2,0,8,1],[6,7,3,5,4,2,0,1,8],[8,6,3,7,1,2,4,5,0]];

const LEFT=[165,1186,165,1186],TOP=[36,36,988,988],W=801,H=763;
const DATA_XY=[[631,666,724,761],[1623,651,710,748],[587,1632,1681,1713],[1659,1615,1668,1706]];
const LETTER_XY=[[196,82],[1234,89],[196,1042],[1225,1049]];
const Y_GAP=[97,98,97,118];
const FONT='DejaVu Sans';
const richName={i:{fontFamily:FONT,fontSize:35,fontStyle:'italic',verticalAlign:'bottom',lineHeight:46},s:{fontFamily:FONT,fontSize:35,verticalAlign:'bottom',lineHeight:50}};
const grids=[],xAxes=[],yAxes=[],series=[],graphics=[];

function makeAxis(p,isMajor,pos,withLabels,title,gap){
  const horizontal=pos==='bottom'||pos==='top';
  const o={type:'value',min:0,max:axisMax[p],gridIndex:isMajor?2*p:2*p+1,position:pos,z:6,
    splitLine:{show:false},minorTick:{show:false},
    axisLine:{show:isMajor,onZero:false,lineStyle:{color:'#000',width:10}},
    axisTick:{show:true,inside:true,customValues:isMajor?majorTicks[p]:minorTicks[p],length:isMajor?25:17,lineStyle:{color:'#000',width:isMajor?10:8}},
    axisLabel:{show:withLabels,customValues:majorTicks[p],color:'#000',fontFamily:FONT,fontSize:48,margin:horizontal?12:18}};
  if(title){
    o.name=title;o.nameLocation='middle';o.nameGap=gap;
    o.nameTextStyle={color:'#000',fontFamily:FONT,fontSize:49,lineHeight:56,rich:Object.assign({},richName)};
  }
  return o;
}

for(let p=0;p<4;p++){
  const rect={left:LEFT[p],top:TOP[p],width:W,height:H,show:false,containLabel:false,outerBoundsMode:'none'};
  grids.push(Object.assign({},rect),Object.assign({},rect));
  xAxes.push(makeAxis(p,true,'bottom',true,xTitles[p],76),makeAxis(p,true,'top',false),makeAxis(p,false,'bottom',false),makeAxis(p,false,'top',false));
  yAxes.push(makeAxis(p,true,'left',true,yTitles[p],Y_GAP[p]),makeAxis(p,true,'right',false),makeAxis(p,false,'left',false),makeAxis(p,false,'right',false));
  const ax=4*p;
  drawOrder[p].forEach((r,k)=>{
    series.push({type:'scatter',name:regionNames[r],xAxisIndex:ax,yAxisIndex:ax,data:panelData[p][r],symbol:'circle',symbolSize:16,z:2+k*0.01,
      itemStyle:{color:regionColors[r],borderColor:'#222',borderWidth:1,opacity:1},silent:true});
  });
  series.push({type:'line',xAxisIndex:ax,yAxisIndex:ax,data:[[0,0],[axisMax[p],axisMax[p]]],symbol:'none',z:4,silent:true,
    lineStyle:{color:'#000',width:6,type:[22,9.5]}});
  const [dx,y1,y2,y3]=DATA_XY[p];
  const txt=(t,x,y)=>({type:'text',z:20,style:{text:t,x,y,fill:'#000',fontFamily:FONT,fontSize:40.5,verticalAlign:'middle',align:'left',
    rich:{p:{fontFamily:FONT,fontSize:28,verticalAlign:'top',lineHeight:44}}}});
  graphics.push(txt(dataCounts[p],dx,y1),txt(r2Texts[p],dx,y2),txt(nmbTexts[p],dx,y3));
  graphics.push({type:'text',z:20,style:{text:panelLetters[p],x:LETTER_XY[p][0],y:LETTER_XY[p][1],fill:'#000',fontFamily:FONT,fontSize:48,verticalAlign:'middle',align:'left'}});
}
graphics.push({type:'rect',z:1,shape:{x:87,y:1941,width:1957,height:133},style:{fill:'#fff',stroke:'#d3d3d3',lineWidth:8}});

const legendCols=[[127,['Northeast','Northwest']],[504,['Ohio Valley','Northern Rockies']],[1021,['South','Southeast']],[1394,['Southwest','Upper Midwest']],[1866,['West']]];
const legends=legendCols.map(([left,names])=>({left,top:1954,orient:'vertical',data:names,selectedMode:false,itemWidth:78,itemHeight:28,itemGap:19,icon:'circle',
  itemStyle:{borderWidth:0},textStyle:{color:'#000',fontFamily:FONT,fontSize:40.5,lineHeight:28},z:10}));

const chart=echarts.init(document.getElementById('c'),null,{width:2067,height:2097});
chart.setOption({animation:false,backgroundColor:'#fff',grid:grids,xAxis:xAxes,yAxis:yAxes,series,legend:legends,graphic:{elements:graphics}});
</script>
</body></html>
